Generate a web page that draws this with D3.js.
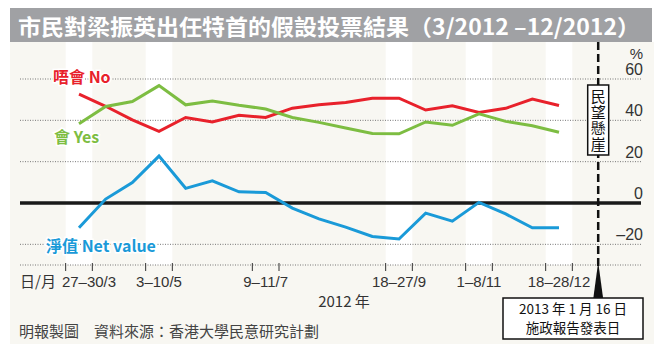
<!DOCTYPE html>
<html>
<head>
<meta charset="utf-8">
<script src="https://cdn.jsdelivr.net/npm/d3@7"></script>
<style>
  body { margin: 0; background: #fff; }
  svg { display: block; font-family: "Liberation Sans", "Noto Sans CJK TC", sans-serif; }
</style>
</head>
<body>
<div id="chart"></div>
<script>
// poll index 0..18, 3/2012 - 12/2012
const polls = d3.range(19);
const noValues  = [52.7, 46.8, 40.2, 34.7, 41.4, 39.2, 42.4, 41.4, 45.9, 47.5, 48.6, 50.7, 50.7, 45.0, 47.0, 43.8, 45.8, 50.3, 47.2];
const yesValues = [38.4, 46.7, 49.1, 56.8, 47.5, 49.4, 47.3, 45.5, 41.4, 39.0, 36.3, 33.6, 33.5, 39.2, 37.6, 43.1, 39.5, 37.4, 34.2];
const netValues = [-12.0, 1.9, 9.9, 22.7, 7.1, 10.7, 5.4, 5.1, -2.5, -7.7, -11.7, -16.2, -17.4, -4.9, -8.8, 0.3, -5.3, -12.0, -12.0];

const tickPolls  = [0, 3, 7, 12, 15, 18];
const tickLabels = ['27–30/3', '3–10/5', '9–11/7', '18–27/9', '1–8/11', '18–28/12'];
const bandPolls  = [0, 3, 12, 15, 18];
const yTicks = [60, 40, 20, 0, -20];

const WIDTH = 662;
const HEIGHT = 352;
const FONT_CJK = '"Noto Sans CJK TC", sans-serif';

const svg = d3.select('#chart')
    .append('svg')
    .attr('width', WIDTH)
    .attr('height', HEIGHT);

// Scales
const xScale = d3.scalePoint()
    .domain(polls)
    .range([79, 559]);
const step = xScale.step();

const yScale = d3.scaleLinear()
    .domain([-30, 60])
    .range([265, 79]);

// Background + title bar
svg.append('rect')
    .attr('x', 10).attr('y', 42)
    .attr('width', 644).attr('height', 302)
    .attr('fill', '#f8f7f2');

svg.append('rect')
    .attr('x', 10).attr('y', 8)
    .attr('width', 642).attr('height', 34)
    .attr('fill', '#a0a1a4');

svg.append('text')
    .attr('x', 18).attr('y', 35)
    .attr('fill', '#fff')
    .attr('font-family', FONT_CJK)
    .attr('font-weight', 700)
    .attr('font-size', 22)
    .attr('textLength', 622)
    .attr('lengthAdjust', 'spacingAndGlyphs')
    .text('市民對梁振英出任特首的假設投票結果（3/2012 –12/2012）');

// White bands
svg.append('g')
    .selectAll('rect')
    .data(bandPolls)
    .enter()
    .append('rect')
    .attr('x', d => xScale(d) - step / 2)
    .attr('y', 42)
    .attr('width', step)
    .attr('height', yScale(-30) - 42)
    .attr('fill', '#fff');

// Grid lines
const gridVals = [60, 40, 20, -20, -30];
svg.append('g')
    .selectAll('line')
    .data(gridVals)
    .enter()
    .append('line')
    .attr('x1', 20).attr('x2', 641)
    .attr('y1', d => yScale(d)).attr('y2', d => yScale(d))
    .attr('stroke', '#777')
    .attr('stroke-width', 1)
    .attr('stroke-dasharray', '1,1.5');

svg.append('line')
    .attr('x1', 20).attr('x2', 641)
    .attr('y1', yScale(0)).attr('y2', yScale(0))
    .attr('stroke', '#1a1a1a')
    .attr('stroke-width', 3.5);

// Y axis labels (right)
svg.append('g')
    .selectAll('text')
    .data(yTicks)
    .enter()
    .append('text')
    .attr('x', 643)
    .attr('y', d => yScale(d) - 4)
    .attr('text-anchor', 'end')
    .attr('font-size', 16)
    .attr('fill', '#333')
    .text(d => d < 0 ? '–' + Math.abs(d) : d);

svg.append('text')
    .attr('x', 643).attr('y', 59)
    .attr('text-anchor', 'end')
    .attr('font-size', 15)
    .attr('fill', '#333')
    .text('%');

// X ticks: pairs of ticks at band edges
const tickEdges = [];
tickPolls.forEach(p => {
    tickEdges.push(xScale(p) - step / 2, xScale(p) + step / 2);
});
svg.append('g')
    .selectAll('line')
    .data(tickEdges)
    .enter()
    .append('line')
    .attr('x1', d => d).attr('x2', d => d)
    .attr('y1', yScale(-30) - 2).attr('y2', yScale(-30) + 6)
    .attr('stroke', '#333')
    .attr('stroke-width', 1);

// first label pushed right to clear the 日/月 unit
svg.append('g')
    .selectAll('text')
    .data(tickPolls)
    .enter()
    .append('text')
    .attr('x', (d, i) => xScale(d) + (i === 0 ? 10 : 0))
    .attr('y', 287)
    .attr('text-anchor', 'middle')
    .attr('font-size', 15)
    .attr('fill', '#333')
    .text((d, i) => tickLabels[i]);

svg.append('text')
    .attr('x', 20).attr('y', 287)
    .attr('font-size', 15)
    .attr('font-family', FONT_CJK)
    .attr('fill', '#333')
    .text('日/月');

svg.append('text')
    .attr('x', 344).attr('y', 307)
    .attr('text-anchor', 'middle')
    .attr('font-size', 15)
    .attr('font-family', FONT_CJK)
    .attr('fill', '#333')
    .text('2012 年');

// Lines
const line = d3.line()
    .x((d, i) => xScale(polls[i]))
    .y(d => yScale(d));

const series = [
    { values: noValues, color: '#e8212b' },
    { values: yesValues, color: '#7dbd42' },
    { values: netValues, color: '#1a9ad8' }
];

svg.append('g')
    .selectAll('path')
    .data(series)
    .enter()
    .append('path')
    .attr('d', d => line(d.values))
    .attr('fill', 'none')
    .attr('stroke', d => d.color)
    .attr('stroke-width', 3)
    .attr('stroke-linejoin', 'miter');

// Series labels
const seriesLabels = [
    { text: '唔會 No', x: 53, y: 83, color: '#e8212b' },
    { text: '會 Yes', x: 54, y: 143, color: '#7dbd42' },
    { text: '淨值 Net value', x: 46, y: 252, color: '#1a9ad8' }
];
svg.append('g')
    .selectAll('text')
    .data(seriesLabels)
    .enter()
    .append('text')
    .attr('x', d => d.x).attr('y', d => d.y)
    .attr('font-family', FONT_CJK)
    .attr('font-weight', 700)
    .attr('font-size', 16)
    .attr('fill', d => d.color)
    .attr('stroke', '#fff')
    .attr('stroke-width', 3)
    .attr('paint-order', 'stroke')
    .text(d => d.text);

// Policy address marker
const markX = xScale(18) + step * 1.47;
svg.append('line')
    .attr('x1', markX).attr('x2', markX)
    .attr('y1', 42).attr('y2', 268)
    .attr('stroke', '#111')
    .attr('stroke-width', 2.5)
    .attr('stroke-dasharray', '8,4');

svg.append('path')
    .attr('d', `M${markX},262 L${markX - 5},299 L${markX + 5},299 Z`)
    .attr('fill', '#111');

// 民望懸崖 box, vertical text
svg.append('rect')
    .attr('x', markX - 10.5).attr('y', 85)
    .attr('width', 21).attr('height', 70)
    .attr('fill', '#fff')
    .attr('stroke', '#111')
    .attr('stroke-width', 1.5);

svg.append('text')
    .attr('x', markX)
    .attr('y', 89)
    .attr('writing-mode', 'tb')
    .attr('font-family', FONT_CJK)
    .attr('font-size', 15)
    .attr('letter-spacing', 1)
    .attr('fill', '#111')
    .text('民望懸崖');

// Date note box
svg.append('rect')
    .attr('x', 503).attr('y', 298)
    .attr('width', 140).attr('height', 41)
    .attr('fill', '#fff')
    .attr('stroke', '#111')
    .attr('stroke-width', 1.5);

const note = svg.append('text')
    .attr('text-anchor', 'middle')
    .attr('font-family', FONT_CJK)
    .attr('font-size', 13.5)
    .attr('fill', '#111');
note.append('tspan')
    .attr('x', 573).attr('y', 313.5)
    .text('2013 年 1 月 16 日');
note.append('tspan')
    .attr('x', 573).attr('y', 333.3)
    .text('施政報告發表日');

// Footer
svg.append('text')
    .attr('x', 19).attr('y', 337)
    .attr('font-family', FONT_CJK)
    .attr('font-size', 15)
    .attr('fill', '#444')
    .text('明報製圖　資料來源：香港大學民意研究計劃');
</script>
</body>
</html>
